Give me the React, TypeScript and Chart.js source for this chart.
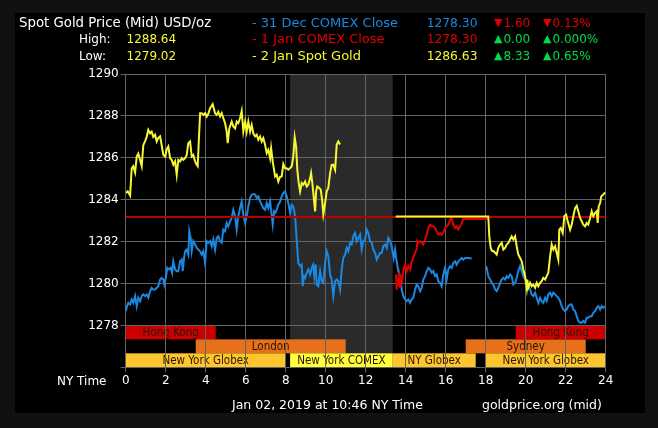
import React, { useEffect, useRef } from 'react';
import { Chart, registerables } from 'chart.js';

Chart.register(...registerables);

const FONT = '"DejaVu Sans", Verdana, sans-serif';

// ---- axes ----
const hourMin = 0;
const hourMax = 24;
const hourStep = 2;
const priceMin = 1276;
const priceMax = 1290;
const priceStep = 2;

// ---- 31 Dec COMEX close (blue) ----
const dec31Hours = [
  0.00, 0.07, 0.13, 0.22, 0.30, 0.38, 0.47, 0.55, 0.63, 0.72, 0.80, 0.88, 0.97, 1.05, 1.13, 1.22, 1.30, 1.38, 1.47, 1.55,
  1.63, 1.72, 1.80, 1.88, 1.93, 2.02, 2.08, 2.18, 2.25, 2.32, 2.38, 2.47, 2.55, 2.63, 2.72, 2.80, 2.85, 2.92, 2.97, 3.05,
  3.13, 3.18, 3.25, 3.30, 3.38, 3.47, 3.55, 3.72, 3.80, 3.88, 3.97, 4.05, 4.13, 4.22, 4.30, 4.38, 4.47, 4.55, 4.63, 4.72,
  4.80, 4.88, 4.97, 5.05, 5.13, 5.22, 5.30, 5.38, 5.47, 5.55, 5.63, 5.72, 5.80, 5.88, 5.97, 6.05, 6.13, 6.22, 6.30, 6.38,
  6.47, 6.55, 6.63, 6.72, 6.80, 6.88, 6.97, 7.05, 7.13, 7.22, 7.27, 7.35, 7.42, 7.47, 7.55, 7.63, 7.72, 7.80, 7.88, 7.97,
  8.05, 8.13, 8.22, 8.30, 8.38, 8.47, 8.55, 8.63, 8.72, 8.80, 8.85, 8.92, 8.97, 9.05, 9.13, 9.22, 9.30, 9.38, 9.43, 9.50,
  9.55, 9.63, 9.72, 9.80, 9.88, 9.97, 10.05, 10.13, 10.22, 10.30, 10.38, 10.47, 10.55, 10.63, 10.72, 10.80, 10.88, 10.97, 11.05, 11.13,
  11.22, 11.30, 11.38, 11.47, 11.55, 11.63, 11.72, 11.80, 11.88, 11.97, 12.05, 12.13, 12.22, 12.30, 12.38, 12.47, 12.55, 12.63, 12.72, 12.80,
  12.88, 12.97, 13.05, 13.13, 13.22, 13.30, 13.40, 13.47, 13.52, 13.63, 13.72, 13.80, 13.88, 13.97, 14.05, 14.13, 14.22, 14.30, 14.38, 14.47,
  14.55, 14.63, 14.72, 14.80, 14.88, 14.97, 15.05, 15.13, 15.22, 15.30, 15.38, 15.47, 15.55, 15.63, 15.72, 15.80, 15.88, 15.97, 16.05, 16.13,
  16.22, 16.30, 16.38, 16.47, 16.55, 16.63, 16.72, 16.80, 16.88, 16.97, 17.13, 17.30, 17.60,
  18.00, 18.05, 18.13, 18.22, 18.30, 18.38, 18.47, 18.55, 18.63, 18.72, 18.80, 18.88, 18.97, 19.05, 19.13, 19.22, 19.30, 19.38, 19.47, 19.55,
  19.63, 19.72, 19.80, 19.88, 19.97, 20.05, 20.13, 20.22, 20.30, 20.38, 20.47, 20.55, 20.63, 20.72, 20.80, 20.88, 20.97, 21.05, 21.13, 21.22,
  21.30, 21.38, 21.47, 21.55, 21.63, 21.72, 21.80, 21.88, 21.97, 22.05, 22.13, 22.22, 22.30, 22.38, 22.47, 22.55, 22.63, 22.72, 22.80, 22.88,
  22.97, 23.05, 23.13, 23.22, 23.30, 23.38, 23.47, 23.55, 23.63, 23.72, 23.80, 23.88, 23.97,
];
const dec31Prices = [
  1278.68, 1278.92, 1279.08, 1279.00, 1279.24, 1279.08, 1279.40, 1278.92, 1279.32, 1279.16, 1279.40, 1279.48, 1279.40, 1279.48, 1279.32, 1279.63, 1279.79, 1279.71, 1279.71, 1279.79,
  1279.87, 1280.19, 1280.27, 1280.19, 1279.95, 1280.35, 1280.75, 1280.67, 1280.75, 1280.51, 1281.06, 1280.67, 1280.59, 1280.59, 1281.06, 1281.14, 1280.59, 1281.22, 1281.54, 1281.62,
  1281.38, 1282.50, 1282.17, 1281.54, 1282.02, 1281.86, 1281.70, 1281.54, 1281.38, 1281.54, 1280.98, 1282.02, 1281.94, 1282.02, 1281.78, 1282.10, 1281.62, 1282.17, 1282.25, 1282.02,
  1281.94, 1282.57, 1282.49, 1282.89, 1282.73, 1282.97, 1283.13, 1283.52, 1283.21, 1282.57, 1283.21, 1283.60, 1283.92, 1283.29, 1282.89, 1283.21, 1283.68, 1284.08, 1284.24, 1284.27,
  1284.24, 1284.08, 1284.16, 1283.92, 1283.76, 1283.60, 1283.52, 1283.84, 1283.60, 1283.92, 1283.52, 1282.81, 1283.44, 1283.37, 1283.52, 1283.76, 1283.90, 1284.16, 1284.32, 1284.40,
  1284.16, 1283.84, 1283.37, 1283.76, 1283.68, 1283.21, 1282.10, 1280.98, 1280.83, 1280.90, 1279.87, 1280.35, 1280.27, 1280.51, 1280.67, 1280.43, 1280.75, 1280.90, 1280.35, 1280.90,
  1279.95, 1279.87, 1280.59, 1280.11, 1280.03, 1280.98, 1281.54, 1281.30, 1280.43, 1280.19, 1279.40, 1280.11, 1280.19, 1280.11, 1279.71, 1280.67, 1281.22, 1281.38, 1281.70, 1281.54,
  1281.94, 1281.86, 1282.25, 1282.41, 1282.02, 1282.17, 1282.33, 1281.62, 1282.02, 1282.10, 1282.57, 1282.41, 1282.02, 1281.94, 1281.62, 1281.46, 1281.14, 1281.30, 1281.46, 1281.46,
  1281.78, 1281.86, 1281.70, 1282.17, 1282.02, 1281.78, 1281.22, 1281.62, 1281.22, 1280.59, 1280.35, 1279.71, 1279.40, 1279.24, 1279.16, 1279.24, 1279.08, 1279.24, 1279.32, 1279.71,
  1279.95, 1279.87, 1279.63, 1279.79, 1280.19, 1280.35, 1280.59, 1280.75, 1280.67, 1280.51, 1280.59, 1280.35, 1280.43, 1280.11, 1280.03, 1279.87, 1280.43, 1280.75, 1280.19, 1280.67,
  1280.83, 1280.75, 1280.98, 1281.06, 1280.90, 1281.06, 1281.14, 1281.22, 1281.14, 1281.22, 1281.22, 1281.19, null,
  1280.83, 1280.75, 1280.35, 1280.19, 1280.03, 1279.95, 1279.72, 1279.64, 1279.79, 1280.03, 1280.19, 1280.27, 1280.19, 1280.35, 1280.27, 1280.43, 1280.35, 1279.95, 1280.03, 1280.27,
  1280.59, 1280.83, 1280.59, 1280.35, 1280.19, 1280.11, 1279.87, 1279.72, 1279.48, 1279.40, 1279.56, 1279.32, 1279.08, 1279.32, 1279.16, 1279.08, 1279.32, 1279.16, 1279.48, 1279.56,
  1279.40, 1279.56, 1279.48, 1279.40, 1279.32, 1279.16, 1278.92, 1278.76, 1278.68, 1278.76, 1278.92, 1279.00, 1279.00, 1278.76, 1278.68, 1278.44, 1278.21, 1278.13, 1278.13, 1278.21,
  1278.13, 1278.37, 1278.37, 1278.44, 1278.44, 1278.60, 1278.68, 1278.84, 1278.92, 1278.76, 1278.92, 1278.84, 1278.92,
];

// ---- 1 Jan COMEX close (red) ----
const jan1Hours = [
  13.52, 13.55, 13.58, 13.63, 13.68, 13.72, 13.77, 13.80, 13.88, 13.97, 14.05, 14.13, 14.22, 14.30, 14.38, 14.47, 14.55, 14.58, 14.63, 14.72,
  14.80, 14.88, 14.97, 15.05, 15.13, 15.22, 15.30, 15.38, 15.47, 15.55, 15.63, 15.72, 15.80, 15.88, 15.97, 16.05, 16.13, 16.22, 16.30, 16.38,
  16.47, 16.55, 16.63, 16.72, 16.80, 16.88, 16.97, 18.10,
];
const jan1Prices = [
  1280.43, 1279.71, 1280.19, 1280.03, 1280.35, 1279.79, 1280.19, 1280.03, 1280.59, 1280.90, 1280.59, 1280.83, 1280.67, 1281.06, 1281.22, 1281.46, 1281.62, 1282.02, 1281.94, 1282.02,
  1281.94, 1281.86, 1282.10, 1282.33, 1282.65, 1282.81, 1282.73, 1282.73, 1282.65, 1282.49, 1282.33, 1282.41, 1282.33, 1282.41, 1282.65, 1282.73, 1282.81, 1283.05, 1283.13, 1282.81,
  1282.65, 1282.73, 1282.57, 1282.73, 1282.89, 1283.08, 1283.08, 1283.08,
];
const jan1FlatHours = [0, 24];
const jan1FlatPrices = [1283.17, 1283.17];

// ---- 2 Jan spot gold (yellow) ----
const jan2Hours = [
  0.00, 0.10, 0.22, 0.30, 0.38, 0.47, 0.55, 0.63, 0.72, 0.80, 0.88, 0.97, 1.05, 1.13, 1.22, 1.30, 1.38, 1.47, 1.55, 1.63,
  1.72, 1.80, 1.88, 1.98, 2.05, 2.13, 2.22, 2.30, 2.38, 2.47, 2.55, 2.63, 2.72, 2.80, 2.88, 2.97, 3.05, 3.13, 3.22, 3.30,
  3.38, 3.47, 3.55, 3.60, 3.65, 3.72, 3.80, 3.88, 3.97, 4.05, 4.13, 4.22, 4.35, 4.47, 4.55, 4.63, 4.72, 4.80, 4.88, 4.97,
  5.05, 5.10, 5.18, 5.30, 5.38, 5.47, 5.55, 5.63, 5.72, 5.80, 5.88, 5.97, 6.05, 6.13, 6.22, 6.30, 6.38, 6.47, 6.55, 6.63,
  6.72, 6.80, 6.88, 6.97, 7.05, 7.13, 7.22, 7.27, 7.35, 7.47, 7.55, 7.63, 7.72, 7.80, 7.88, 7.97, 8.05, 8.13, 8.22, 8.30,
  8.38, 8.45, 8.52, 8.58, 8.65, 8.72, 8.80, 8.88, 8.97, 9.05, 9.13, 9.22, 9.27, 9.33, 9.38, 9.47, 9.52, 9.58, 9.68, 9.75,
  9.82, 9.88, 9.97, 10.05, 10.13, 10.22, 10.30, 10.38, 10.47, 10.55, 10.63, 10.72, 12.00,
  13.50, 18.13, 18.18, 18.25, 18.32, 18.38, 18.47, 18.55, 18.63, 18.72, 18.80, 18.88, 18.97, 19.05, 19.13, 19.22, 19.30, 19.38, 19.47, 19.55,
  19.63, 19.72, 19.80, 19.88, 19.97, 20.05, 20.08, 20.13, 20.22, 20.30, 20.38, 20.47, 20.55, 20.63, 20.72, 20.80, 20.88, 20.97, 21.05, 21.13,
  21.22, 21.30, 21.38, 21.47, 21.55, 21.63, 21.68, 21.75, 21.85, 21.93, 22.02, 22.08, 22.15, 22.22, 22.30, 22.38, 22.47, 22.55, 22.63, 22.72,
  22.80, 22.88, 22.97, 23.05, 23.13, 23.22, 23.30, 23.38, 23.47, 23.55, 23.60, 23.65, 23.72, 23.78, 23.88, 23.97,
];
const jan2Prices = [
  1284.32, 1284.40, 1284.20, 1285.50, 1285.60, 1285.30, 1286.06, 1286.20, 1285.90, 1285.60, 1286.60, 1286.80, 1287.00, 1287.33, 1287.17, 1287.25, 1287.00, 1287.10, 1286.78, 1286.95,
  1287.02, 1286.60, 1286.14, 1286.06, 1286.40, 1286.54, 1285.98, 1285.90, 1285.67, 1285.83, 1285.19, 1285.90, 1285.83, 1285.98, 1285.90, 1285.98, 1286.14, 1286.70, 1286.78, 1286.06,
  1286.14, 1285.83, 1285.67, 1285.60, 1286.70, 1288.13, 1288.13, 1288.05, 1288.13, 1287.97, 1288.10, 1288.37, 1288.56, 1288.13, 1288.05, 1288.20, 1287.97, 1288.13, 1287.90, 1287.65,
  1287.25, 1286.70, 1287.40, 1287.73, 1287.50, 1287.40, 1287.73, 1287.65, 1287.90, 1288.24, 1287.25, 1287.73, 1287.25, 1287.73, 1287.25, 1287.57, 1287.17, 1287.02, 1287.10, 1286.86,
  1287.02, 1286.78, 1286.94, 1286.62, 1286.22, 1286.38, 1285.98, 1286.46, 1285.83, 1285.11, 1285.19, 1284.87, 1285.10, 1285.11, 1285.70, 1285.50, 1285.50, 1285.43, 1285.51, 1285.59,
  1286.06, 1286.98, 1286.54, 1285.43, 1284.80, 1284.40, 1284.80, 1284.71, 1284.87, 1284.63, 1284.71, 1285.03, 1285.27, 1284.80, 1284.32, 1283.44, 1284.40, 1284.63, 1284.56, 1284.48,
  1284.00, 1283.29, 1283.84, 1284.40, 1284.56, 1285.27, 1285.67, 1285.67, 1285.43, 1286.62, 1286.78, 1286.63, null,
  1283.20, 1283.20, 1282.25, 1281.70, 1281.55, 1281.55, 1281.47, 1281.38, 1281.70, 1281.86, 1281.94, 1281.62, 1281.70, 1281.86, 1281.94, 1282.10, 1282.25, 1282.10, 1282.25, 1281.78,
  1281.38, 1281.22, 1281.06, 1280.67, 1280.35, 1279.80, 1280.19, 1279.80, 1280.03, 1279.87, 1279.95, 1279.80, 1280.03, 1279.87, 1280.03, 1280.11, 1280.27, 1280.19, 1280.35, 1280.51,
  1281.30, 1281.86, 1281.62, 1281.78, 1281.46, 1281.14, 1282.57, 1282.65, 1282.41, 1283.21, 1283.29, 1283.05, 1282.81, 1282.57, 1282.81, 1283.21, 1283.60, 1283.71, 1283.45, 1283.13,
  1282.97, 1282.81, 1282.73, 1282.89, 1282.81, 1283.13, 1283.45, 1283.21, 1283.37, 1283.45, 1282.89, 1283.68, 1283.84, 1284.16, 1284.24, 1284.35,
];

// ---- trading sessions (bottom bands) ----
const sessionLabels = ['Hong Kong', 'London', 'New York Globex', 'New York COMEX', 'NY Globex', 'Sydney', 'Hong Kong', 'New York Globex'];
const sessionStart = [0, 3.5, 0, 8.22, 13.35, 17, 19.5, 18];
const sessionEnd = [4.5, 11, 8, 13.35, 17.5, 23, 24, 24];
const sessionRow = [0, 1, 2, 2, 2, 1, 0, 2];
const sessionColors = ['#cc0000', '#e6711a', '#fec62e', '#ffff3c', '#fec62e', '#e6711a', '#cc0000', '#fec62e'];
const comexShade = [8.22, 13.35];
const bandTopPrice = 1278;

const BLUE = '#1a87e0';
const RED = '#e00000';
const DARK_RED = '#b80000';
const YELLOW = '#f7f733';
const GREEN = '#00dd44';

const toPoints = (hours: number[], prices: (number | null)[]) =>
  hours.map((h, i) => ({ x: h, y: prices[i] }));

const sessionPlugin = {
  id: 'sessions',
  beforeDraw(chart: any) {
    const { ctx, chartArea, scales } = chart;
    const xs = scales.x;
    const ys = scales.y;
    ctx.save();
    const s0 = xs.getPixelForValue(comexShade[0]);
    const s1 = xs.getPixelForValue(comexShade[1]);
    ctx.fillStyle = '#2a2a2a';
    ctx.fillRect(s0, chartArea.top, s1 - s0, chartArea.bottom - chartArea.top);
    const rowH = (bandTopPrice - priceMin) / 3;
    sessionLabels.forEach((label, i) => {
      const x0 = xs.getPixelForValue(sessionStart[i]);
      const x1 = xs.getPixelForValue(sessionEnd[i]);
      const yT = ys.getPixelForValue(bandTopPrice - sessionRow[i] * rowH);
      const yB = ys.getPixelForValue(bandTopPrice - (sessionRow[i] + 1) * rowH);
      ctx.fillStyle = sessionColors[i];
      ctx.fillRect(x0, yT, x1 - x0, yB - yT);
      ctx.fillStyle = '#2a1400';
      ctx.font = '11.5px "DejaVu Sans Condensed", "DejaVu Sans", sans-serif';
      ctx.textAlign = 'center';
      ctx.textBaseline = 'middle';
      ctx.fillText(label, (x0 + x1) / 2, (yT + yB) / 2 + 0.5);
    });
    ctx.restore();
  },
};

function Txt(props: { x: number; cy: number; color: string; size: number; children: any; right?: boolean }) {
  const { x, cy, color, size, children, right } = props;
  const style: any = {
    position: 'absolute',
    top: cy - 8,
    lineHeight: '16px',
    height: 16,
    fontSize: size,
    fontFamily: FONT,
    color,
    whiteSpace: 'nowrap',
  };
  if (right) style.right = 658 - x;
  else style.left = x;
  return <div style={style}>{children}</div>;
}

function Change(props: { x: number; cy: number; up: boolean; value: string }) {
  const { x, cy, up, value } = props;
  const color = up ? GREEN : RED;
  return (
    <Txt x={x} cy={cy} color={color} size={12}>
      <span style={{ fontSize: 11, position: 'relative', top: -1, marginRight: 1 }}>{up ? '▲' : '▼'}</span>
      {value}
    </Txt>
  );
}

export default function App() {
  const canvasRef = useRef<HTMLCanvasElement | null>(null);

  useEffect(() => {
    if (!canvasRef.current) return;
    const chart = new Chart(canvasRef.current, {
      type: 'line',
      data: {
        datasets: [
          {
            label: '2 Jan Spot Gold',
            data: toPoints(jan2Hours, jan2Prices),
            borderColor: YELLOW,
            borderWidth: 2,
            pointRadius: 0,
            tension: 0,
            spanGaps: false,
          },
          {
            label: '1 Jan COMEX Close',
            data: toPoints(jan1Hours, jan1Prices),
            borderColor: RED,
            borderWidth: 2,
            pointRadius: 0,
            tension: 0,
          },
          {
            label: '1 Jan close level',
            data: toPoints(jan1FlatHours, jan1FlatPrices),
            borderColor: DARK_RED,
            borderWidth: 2,
            pointRadius: 0,
            tension: 0,
          },
          {
            label: '31 Dec COMEX Close',
            data: toPoints(dec31Hours, dec31Prices),
            borderColor: BLUE,
            borderWidth: 2,
            pointRadius: 0,
            tension: 0,
            spanGaps: false,
          },
        ],
      },
      options: {
        animation: false,
        responsive: false,
        maintainAspectRatio: false,
        parsing: false as any,
        layout: { padding: { left: 0, right: 39.3, top: 61, bottom: 0 } },
        plugins: { legend: { display: false }, tooltip: { enabled: false } },
        scales: {
          x: {
            type: 'linear',
            min: hourMin,
            max: hourMax,
            ticks: { stepSize: hourStep, color: '#ffffff', font: { family: FONT, size: 12 }, padding: 1, maxRotation: 0, autoSkip: false },
            grid: { color: '#636363', tickLength: 5, lineWidth: 1 },
            border: { color: '#636363' },
            afterFit: (s: any) => {
              s.height = 45.7;
            },
          },
          y: {
            type: 'linear',
            min: priceMin,
            max: priceMax,
            ticks: {
              stepSize: priceStep,
              color: '#ffffff',
              font: { family: FONT, size: 12 },
              padding: 2,
              callback: (v: any) => (v === priceMin ? '' : String(v)),
            },
            grid: { color: '#636363', tickLength: 5, lineWidth: 1 },
            border: { color: '#636363' },
            afterFit: (s: any) => {
              s.width = 110.7;
            },
          },
        },
      },
      plugins: [sessionPlugin],
    });
    return () => chart.destroy();
  }, []);

  return (
    <div style={{ position: 'fixed', left: 0, top: 0, width: 658, height: 428, background: '#111111', overflow: 'hidden' }}>
      <div style={{ position: 'absolute', left: 15, top: 13, width: 630, height: 400, background: '#000000' }}>
        <canvas ref={canvasRef} width={630} height={400} style={{ position: 'absolute', left: 0, top: 0, width: 630, height: 400 }} />
      </div>
      <Txt x={19} cy={22.5} color="#ffffff" size={13.3}>Spot Gold Price (Mid) USD/oz</Txt>
      <Txt x={79} cy={39} color="#ffffff" size={12}>High:</Txt>
      <Txt x={126.5} cy={39} color={YELLOW} size={12}>1288.64</Txt>
      <Txt x={79} cy={56} color="#ffffff" size={12}>Low:</Txt>
      <Txt x={126.5} cy={56} color={YELLOW} size={12}>1279.02</Txt>

      <Txt x={252} cy={22.5} color={BLUE} size={13}>- 31 Dec COMEX Close</Txt>
      <Txt x={252} cy={39} color={RED} size={13}>- 1 Jan COMEX Close</Txt>
      <Txt x={252} cy={56} color={YELLOW} size={13}>- 2 Jan Spot Gold</Txt>

      <Txt x={477.5} cy={22.5} color={BLUE} size={12.3} right>1278.30</Txt>
      <Txt x={477.5} cy={39} color={RED} size={12.3} right>1278.30</Txt>
      <Txt x={477.5} cy={56} color={YELLOW} size={12.3} right>1286.63</Txt>

      <Change x={494} cy={22.5} up={false} value="1.60" />
      <Change x={494} cy={39} up={true} value="0.00" />
      <Change x={494} cy={56} up={true} value="8.33" />
      <Change x={543} cy={22.5} up={false} value="0.13%" />
      <Change x={543} cy={39} up={true} value="0.000%" />
      <Change x={543} cy={56} up={true} value="0.65%" />

      <Txt x={106.5} cy={381} color="#ffffff" size={12} right>NY Time</Txt>
      <Txt x={232} cy={405} color="#ffffff" size={12.5}>Jan 02, 2019 at 10:46 NY Time</Txt>
      <Txt x={482} cy={405} color="#ffffff" size={12.5}>goldprice.org (mid)</Txt>
    </div>
  );
}
